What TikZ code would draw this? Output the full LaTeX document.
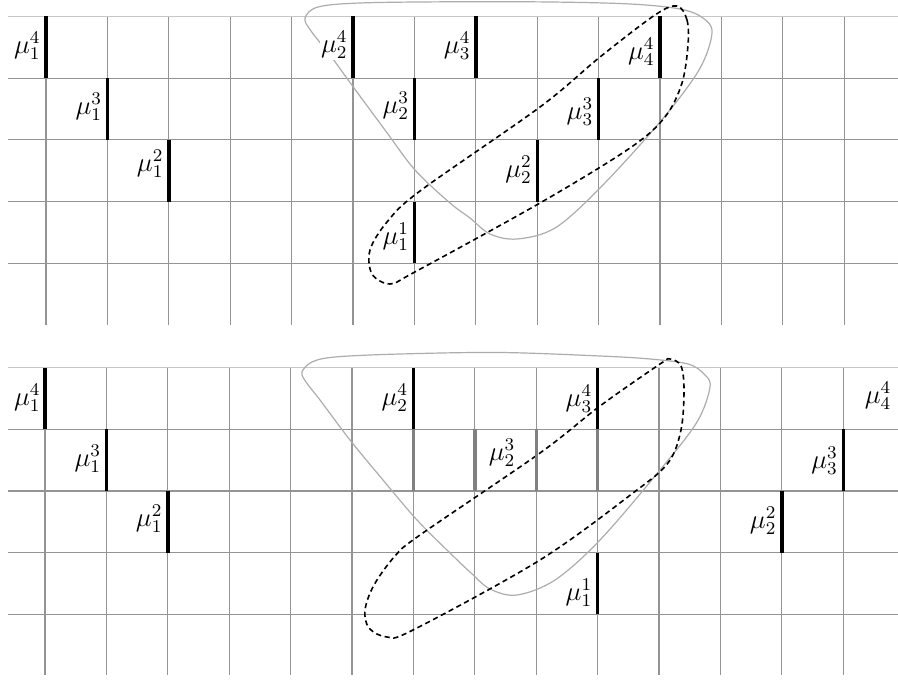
\documentclass[tikz,border=0pt]{standalone}
\newcommand{\mulab}[2]{\scalebox{1.12}{$\mu_{#1}^{#2}$}}
\begin{document}
\begin{tikzpicture}[x=0.5pt,y=-0.5pt,
  gridline/.style={draw=black!42, line width=0.6pt},
  gridtop/.style={draw=black!22, line width=0.6pt},
  barblack/.style={draw=black, line width=1.7pt},
  bargray/.style={draw=black!50, line width=1.7pt},
  lab/.style={font=\fontsize{12}{14}\selectfont, inner sep=0.5pt, anchor=east},
  labc/.style={font=\fontsize{12}{14}\selectfont, inner sep=0.5pt},
  loopgray/.style={draw=black!32, line width=0.6pt},
  loopdash/.style={draw=black, line width=0.8pt, dash pattern=on 2.6pt off 1.8pt}
]
\useasboundingbox (0,0) rectangle (898,683);
\fill[white] (0,0) rectangle (898,683);

% ---------- top grid ----------
\foreach \k in {0,...,13} \draw[gridline] ({46+61.4*\k},16.5) -- ({46+61.4*\k},325);
\draw[gridtop] (8,16.5) -- (898,16.5);
\foreach \r in {1,...,4} \draw[gridline] (8,{16.5+61.7*\r}) -- (898,{16.5+61.7*\r});

% ---------- bottom grid ----------
\foreach \k in {0,...,13} \draw[gridline] ({45+61.4*\k},367.7) -- ({45+61.4*\k},675);
\draw[gridtop] (8,367.7) -- (898,367.7);
\foreach \r in {1,...,4} \draw[gridline] (8,{367.7+61.6*\r}) -- (898,{367.7+61.6*\r});

% ---------- closed curves, top ----------
\draw[loopgray] plot[smooth cycle, tension=0.55] coordinates {
  (305,18) (318,7) (360,3) (450,1.8) (550,2) (630,4) (680,9) (703,18) (712,33)
  (699,70) (660,122) (600,188) (555,228) (517,239) (490,234) (470,218)
  (450,203) (415,170) (385,130) (354,88) (330,55) (311,31)};
\draw[loopdash] plot[smooth cycle, tension=0.55] coordinates {
  (677,6) (687,20) (688,45) (682,83) (665,117) (630,148) (540,203) (413,273)
  (390,284) (372,274) (370,250) (387,222) (420,191) (540,107) (600,57) (655,15)};

% ---------- closed curves, bottom ----------
\draw[loopgray] plot[smooth cycle, tension=0.55] coordinates {
  (302,372) (312,362) (335,357) (400,354) (500,352.5) (600,356) (650,359) (688,364)
  (704,374) (710,387) (697,422) (660,470) (600,540) (555,580) (517,595) (490,589)
  (470,572) (450,553) (417,520) (383,480) (350,440) (320,400) (306,382)};
\draw[loopdash] plot[smooth cycle, tension=0.55] coordinates {
  (670,359) (681,366) (684,390) (681,430) (668,463) (633,493) (540,560) (413,630)
  (387,637) (369,628) (365,610) (374,585) (395,556) (420,535) (540,453) (600,406)
  (660,364)};

% ---------- bars, top ----------
\draw[barblack] (46,16.5) -- (46,78.2);
\draw[barblack] (107.4,78.2) -- (107.4,139.9);
\draw[barblack] (168.8,139.9) -- (168.8,201.6);
\draw[barblack] (353,16.5) -- (353,78.2);
\draw[barblack] (475.8,16.5) -- (475.8,78.2);
\draw[barblack] (660,16.5) -- (660,78.2);
\draw[barblack] (414.4,78.2) -- (414.4,139.9);
\draw[barblack] (598.6,78.2) -- (598.6,139.9);
\draw[barblack] (537.2,139.9) -- (537.2,201.6);
\draw[barblack] (414.4,201.6) -- (414.4,263.3);

% ---------- bars, bottom ----------
\draw[barblack] (45,367.7) -- (45,429.3);
\draw[barblack] (106.4,429.3) -- (106.4,490.9);
\draw[barblack] (167.8,490.9) -- (167.8,552.5);
\draw[barblack] (413.4,367.7) -- (413.4,429.3);
\draw[barblack] (597.6,367.7) -- (597.6,429.3);
\foreach \xx in {413.4,474.8,536.2,597.6} \draw[bargray] (\xx,429.3) -- (\xx,490.9);
\draw[barblack] (597.6,552.5) -- (597.6,614.1);
\draw[barblack] (781.8,490.9) -- (781.8,552.5);
\draw[barblack] (843.2,429.3) -- (843.2,490.9);

% ---------- labels, top ----------
\node[lab] (t14) at (42,46) {\mulab{1}{4}};
\node[lab] (t13) at (103.4,107) {\mulab{1}{3}};
\node[lab] (t12) at (164.8,164) {\mulab{1}{2}};
\node[lab, fill=white] (t24) at (349,45) {\mulab{2}{4}};
\node[lab] (t34) at (471.8,46) {\mulab{3}{4}};
\node[lab] (t44) at (656,52) {\mulab{4}{4}};
\node[lab] (t23) at (410.4,106) {\mulab{2}{3}};
\node[lab] (t33) at (594.6,112) {\mulab{3}{3}};
\node[lab] (t22) at (533.2,170) {\mulab{2}{2}};
\node[lab] (t11) at (410.4,237) {\mulab{1}{1}};

% ---------- labels, bottom ----------
\node[lab] (b14) at (42,398) {\mulab{1}{4}};
\node[lab] (b13) at (102.4,459) {\mulab{1}{3}};
\node[lab] (b12) at (163.8,519) {\mulab{1}{2}};
\node[lab] (b24) at (409.4,398) {\mulab{2}{4}};
\node[lab] (b34) at (593.6,399) {\mulab{3}{4}};
\node[labc] (b23) at (502,453) {\mulab{2}{3}};
\node[lab] (b11) at (593.6,593) {\mulab{1}{1}};
\node[lab] (b22) at (777.8,521) {\mulab{2}{2}};
\node[lab] (b33) at (839.2,461) {\mulab{3}{3}};
\node[labc] (b44) at (878,396) {\mulab{4}{4}};
\end{tikzpicture}
\end{document}
